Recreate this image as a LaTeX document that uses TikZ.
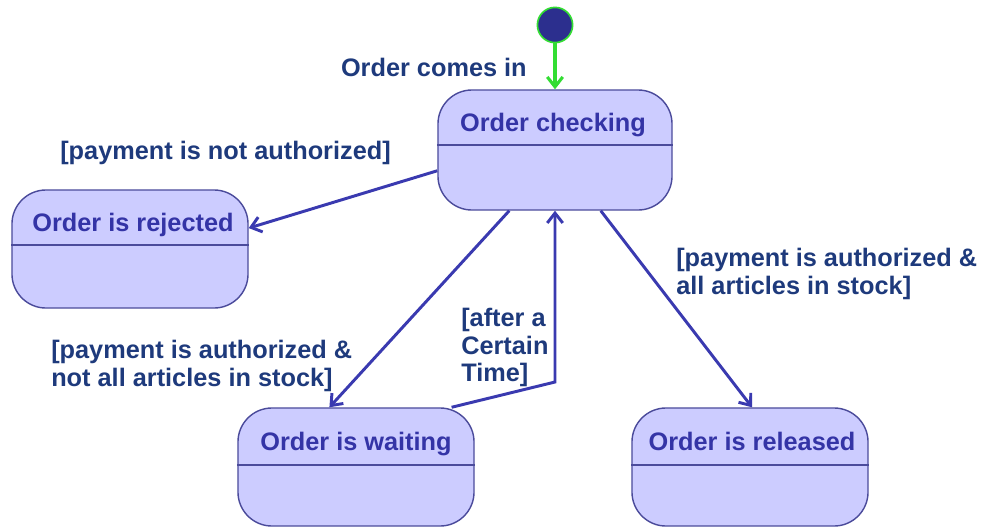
\documentclass[tikz,border=0pt]{standalone}
\usepackage{fontspec}
\setmainfont{Liberation Sans}
\usetikzlibrary{arrows.meta,positioning}
\definecolor{statefill}{HTML}{CCCCFF}
\definecolor{stateline}{HTML}{4B4B9B}
\definecolor{statetext}{HTML}{3434A6}
\definecolor{guardtext}{HTML}{1E3A7C}
\definecolor{flowblue}{HTML}{3A3AB0}
\definecolor{startgreen}{HTML}{33DD33}
\definecolor{startdot}{HTML}{2C2F8E}

\begin{document}
\begin{tikzpicture}[
  x=0.025cm, y=-0.025cm,
  >={Straight Barb[length=7pt,width=11pt]},
  state/.style={rectangle, draw=stateline, fill=statefill, line width=1pt, rounded corners=0.85cm, minimum width=5.9cm, minimum height=2.95cm},
  statename/.style={anchor=base, inner sep=0pt, text=statetext, font=\bfseries\fontsize{18}{20}\selectfont},
  divider/.style={draw=stateline, line width=0.8pt},
  guard/.style={inner sep=0pt, align=left, text=guardtext, font=\bfseries\fontsize{18}{19.6}\selectfont},
  flow/.style={->, draw=flowblue, line width=2.1pt},
  start/.style={circle, draw=startgreen, fill=startdot, line width=1.2pt, minimum size=0.88cm, inner sep=0pt}
]
  \useasboundingbox (0,0) rectangle (984,527);

  % states
  \node[start] (init) at (555,25) {};
  \node[state, minimum width=5.85cm, minimum height=3cm] (chk) at (555,150) {};
  \node[state] (rej) at (130,249) {};
  \node[state] (wait) at (356,467) {};
  \node[state] (rel) at (750,467) {};

  \node[statename] (chkname) at (553,131) {Order checking};
  \node[statename] (rejname) at (133,231) {Order is rejected};
  \node[statename] (waitname) at (356,450) {Order is waiting};
  \node[statename] (relname) at (752,450) {Order is released};

  \draw[divider] (chk.west |- 0,145) -- (chk.east |- 0,145);
  \draw[divider] (rej.west |- 0,245) -- (rej.east |- 0,245);
  \draw[divider] (wait.west |- 0,465) -- (wait.east |- 0,465);
  \draw[divider] (rel.west |- 0,465) -- (rel.east |- 0,465);

  % transitions
  \draw[->, draw=startgreen, line width=2.2pt] (init) -- (chk);
  \draw[flow] (chk.190) -- (rej.10);
  \draw[flow] (chk.233) -- (wait.114);
  \draw[flow] (chk.-53) -- (rel.88);
  \coordinate (timeout) at (555,382);
  \draw[flow] (wait.32) -- (timeout) -- (chk.south);

  % guards
  \node[guard, anchor=base east] (incoming) at (527,76) {Order comes in};
  \node[guard, anchor=base west] (notauth) at (60,159) {[payment is not authorized]};
  \node[guard, anchor=north west] (waitguard) at (51,340) {[payment is authorized \&\\not all articles in stock]};
  \node[guard, anchor=north west] (timeguard) at (461,308) {[after a\\Certain\\Time]};
  \node[guard, anchor=north west] (relguard) at (676,248) {[payment is authorized \&\\all articles in stock]};
\end{tikzpicture}
\end{document}
